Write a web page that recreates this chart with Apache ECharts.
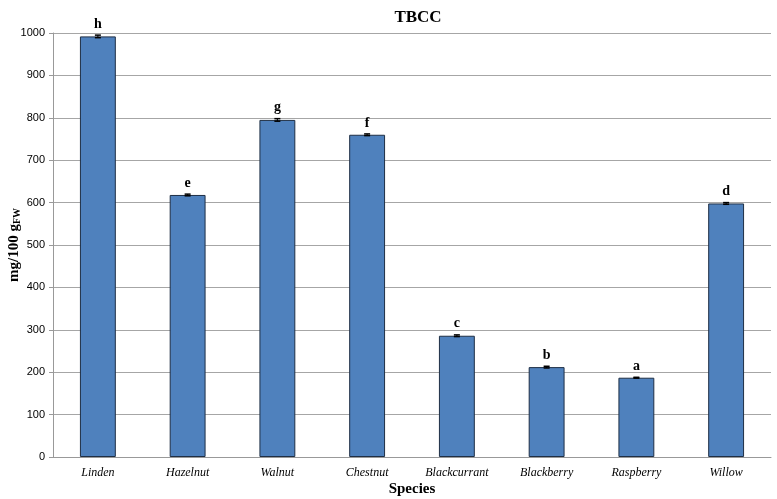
<!DOCTYPE html>
<html>
<head>
<meta charset="utf-8">
<script src="https://cdn.jsdelivr.net/npm/echarts@6/dist/echarts.min.js"></script>
<style>
html, body { margin: 0; padding: 0; background: #fff; }
#main { width: 777px; height: 499px; }
</style>
</head>
<body>
<div id="main"></div>
<script>
var species = ['Linden', 'Hazelnut', 'Walnut', 'Chestnut', 'Blackcurrant', 'Blackberry', 'Raspberry', 'Willow'];
var tbcc = [992, 618, 795, 760, 286, 212, 187, 598];
var errors = [3, 2, 3, 2, 2, 2, 1, 2];
var letters = ['h', 'e', 'g', 'f', 'c', 'b', 'a', 'd'];
var yTicks = [0, 100, 200, 300, 400, 500, 600, 700, 800, 900, 1000];

var myChart = echarts.init(document.getElementById('main'));

var errData = species.map(function (s, i) {
	return [i, tbcc[i] - errors[i], tbcc[i] + errors[i]];
});

option = {
	animation: false,
	title: {
		text: 'TBCC',
		left: 413,
		textAlign: 'center',
		top: 4,
		textStyle: {
			fontFamily: 'Liberation Serif',
			fontWeight: 'bold',
			fontSize: 17,
			color: '#000'
		}
	},
	grid: {
		left: 53,
		right: 6,
		top: 33,
		bottom: 42,
		containLabel: false,
		outerBoundsMode: 'none'
	},
	xAxis: {
		type: 'category',
		data: species,
		name: 'Species',
		nameLocation: 'middle',
		nameGap: 25,
		nameMoveOverlap: false,
		nameTextStyle: {
			fontFamily: 'Liberation Serif',
			fontWeight: 'bold',
			fontSize: 15,
			color: '#000'
		},
		axisLine: { lineStyle: { color: '#999', width: 1 } },
		axisTick: { show: false },
		axisLabel: {
			interval: 0,
			fontFamily: 'Liberation Serif',
			fontStyle: 'italic',
			fontSize: 12,
			color: '#000',
			margin: 10
		}
	},
	yAxis: {
		type: 'value',
		min: yTicks[0],
		max: yTicks[yTicks.length - 1],
		interval: 100,
		name: '{a|mg/100 g}{b|FW}',
		nameLocation: 'middle',
		nameGap: 31,
		nameMoveOverlap: false,
		nameTextStyle: {
			rich: {
				a: {
					fontFamily: 'Liberation Serif',
					fontWeight: 'bold',
					fontSize: 15,
					color: '#000'
				},
				b: {
					fontFamily: 'Liberation Serif',
					fontWeight: 'bold',
					fontSize: 10,
					color: '#000',
					verticalAlign: 'bottom',
					padding: [6, 0, 0, 0]
				}
			}
		},
		axisLine: { show: true, lineStyle: { color: '#999', width: 1 } },
		axisTick: { show: true, length: 4, lineStyle: { color: '#999' } },
		axisLabel: {
			formatter: function (v) { return String(v); },
			fontFamily: 'Liberation Sans',
			fontSize: 11,
			color: '#000',
			margin: 8
		},
		splitLine: { lineStyle: { color: '#a6a6a6', width: 1 } }
	},
	series: [{
		name: 'TBCC',
		type: 'bar',
		barWidth: '40%',
		data: tbcc,
		itemStyle: {
			color: '#4f81bd',
			borderColor: '#1f2f45',
			borderWidth: 1
		}
	}, {
		name: 'error',
		type: 'custom',
		data: errData,
		z: 10,
		renderItem: function (params, api) {
			var i = api.value(0);
			var lo = api.coord([i, api.value(1)]);
			var hi = api.coord([i, api.value(2)]);
			var idx = params.dataIndex;
			var top = api.coord([i, tbcc[idx]]);
			return {
				type: 'group',
				children: [{
					type: 'line',
					shape: { x1: lo[0], y1: lo[1], x2: hi[0], y2: hi[1] },
					style: { stroke: '#000', lineWidth: 1 }
				}, {
					type: 'line',
					shape: { x1: hi[0] - 3, y1: hi[1], x2: hi[0] + 3, y2: hi[1] },
					style: { stroke: '#000', lineWidth: 1.5 }
				}, {
					type: 'line',
					shape: { x1: lo[0] - 3, y1: lo[1], x2: lo[0] + 3, y2: lo[1] },
					style: { stroke: '#000', lineWidth: 1.5 }
				}, {
					type: 'text',
					style: {
						text: letters[idx],
						x: top[0],
						y: hi[1] - 4,
						textAlign: 'center',
						textVerticalAlign: 'bottom',
						fontFamily: 'Liberation Serif',
						fontWeight: 'bold',
						fontSize: 14,
						fill: '#000'
					}
				}]
			};
		}
	}]
};

myChart.setOption(option);
</script>
</body>
</html>
